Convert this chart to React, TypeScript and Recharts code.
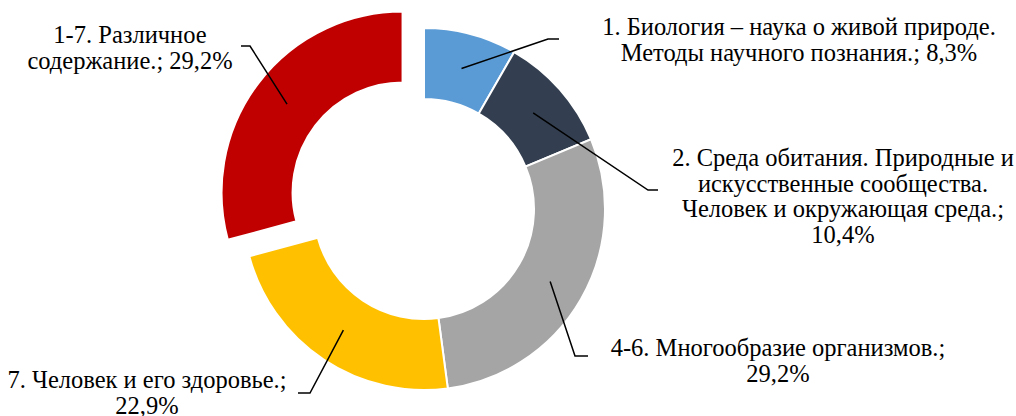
import React from 'react'
import { PieChart, Pie, Cell } from 'recharts'

// share of tasks by topic, %, clockwise from 12 o'clock
const categories = [
  '1. Биология – наука о живой природе.\nМетоды научного познания.',
  '2. Среда обитания. Природные и\nискусственные сообщества.\nЧеловек и окружающая среда.',
  '4-6. Многообразие организмов.',
  '7. Человек и его здоровье.',
  '1-7. Различное\nсодержание.',
]
const shares = [8.3, 10.4, 29.2, 22.9, 29.2]
const colors = ['#5B9BD5', '#333F50', '#A5A5A5', '#FFC000', '#C00000']
const exploded = [false, false, false, false, true]

// where each callout goes: elbow of the leader, short tail, text anchor
const labelLayout = [
  { elbow: [548, 39], tail: 11, x: 799, y: 35, valueBreak: false },
  { elbow: [648, 190], tail: 10, x: 843, y: 166, valueBreak: true },
  { elbow: [575, 356], tail: 13, x: 778, y: 356, valueBreak: true },
  { elbow: [310, 393], tail: -12, x: 147, y: 388, valueBreak: true },
  { elbow: [250, 46], tail: -9, x: 130, y: 43, valueBreak: false },
]

const W = 1016
const H = 416
const CX = 424
const CY = 209
const R_IN = 110
const R_OUT = 181
const EXPLODE = 27
const FONT = "'Liberation Serif', 'Times New Roman', serif"
const FONT_SIZE = 24.5
const LINE_H = 25.5

const data = categories.map((name, i) => ({ name, value: shares[i] }))
const total = shares.reduce((a, b) => a + b, 0)

const fmt = (v: number) => v.toFixed(1).replace('.', ',') + '%'

// offset of the pulled-out slice, along its own middle angle
function explodeOffset(i: number) {
  const before = shares.slice(0, i).reduce((a, b) => a + b, 0)
  const mid = ((before + shares[i] / 2) / total) * 2 * Math.PI
  return { dx: EXPLODE * Math.sin(mid), dy: -EXPLODE * Math.cos(mid) }
}

const RAD = Math.PI / 180

// leader lines: from the middle of the ring at the slice's mid angle
function makeLeader(show: (i: number) => boolean) {
  return (p: any) => {
    const { cx, cy, midAngle, innerRadius, outerRadius, index } = p
    if (!show(index)) return <g />
    const r = (innerRadius + outerRadius) / 2
    const sx = cx + r * Math.cos(-midAngle * RAD)
    const sy = cy + r * Math.sin(-midAngle * RAD)
    const lay = labelLayout[index]
    const [ex, ey] = lay.elbow
    return (
      <polyline
        points={`${sx},${sy} ${ex},${ey} ${ex + lay.tail},${ey}`}
        fill="none"
        stroke="#000"
        strokeWidth={1.5}
      />
    )
  }
}

function Labels() {
  return (
    <svg
      width={W}
      height={H}
      style={{ position: 'absolute', left: 0, top: 0, pointerEvents: 'none' }}
    >
      {categories.map((c, i) => {
        const lay = labelLayout[i]
        const lines = (c + ';' + (lay.valueBreak ? '\n' : ' ') + fmt(shares[i])).split('\n')
        return (
          <text
            key={i}
            x={lay.x}
            y={lay.y}
            textAnchor="middle"
            fontFamily="Liberation Serif"
            style={{ fontFamily: FONT, fontSize: FONT_SIZE, fill: '#000' }}
          >
            {lines.map((ln, k) => (
              <tspan key={k} x={lay.x} dy={k === 0 ? 0 : LINE_H}>
                {ln}
              </tspan>
            ))}
          </text>
        )
      })}
    </svg>
  )
}

const noMargin = { top: 0, right: 0, bottom: 0, left: 0 }

export default function App() {
  const ex = explodeOffset(exploded.indexOf(true))
  return (
    <div
      style={{
        position: 'absolute',
        left: 0,
        top: 0,
        width: W,
        height: H,
        background: '#fff',
      }}
    >
      <PieChart width={W} height={H} margin={noMargin}>
        <Pie
          data={data}
          dataKey="value"
          cx={CX}
          cy={CY}
          innerRadius={R_IN}
          outerRadius={R_OUT}
          startAngle={90}
          endAngle={-270}
          stroke="#fff"
          strokeWidth={2}
          labelLine={false}
          label={makeLeader((i) => !exploded[i])}
          isAnimationActive={false}
        >
          {data.map((d, i) => (
            <Cell
              key={d.name}
              fill={exploded[i] ? 'none' : colors[i]}
              stroke={exploded[i] ? 'none' : '#fff'}
            />
          ))}
        </Pie>
        <Pie
          data={data}
          dataKey="value"
          cx={CX + ex.dx}
          cy={CY + ex.dy}
          innerRadius={R_IN}
          outerRadius={R_OUT}
          startAngle={90}
          endAngle={-270}
          stroke="#fff"
          strokeWidth={2}
          labelLine={false}
          label={makeLeader((i) => exploded[i])}
          isAnimationActive={false}
        >
          {data.map((d, i) => (
            <Cell
              key={d.name}
              fill={exploded[i] ? colors[i] : 'none'}
              stroke={exploded[i] ? '#fff' : 'none'}
            />
          ))}
        </Pie>
      </PieChart>
      <Labels />
    </div>
  )
}
